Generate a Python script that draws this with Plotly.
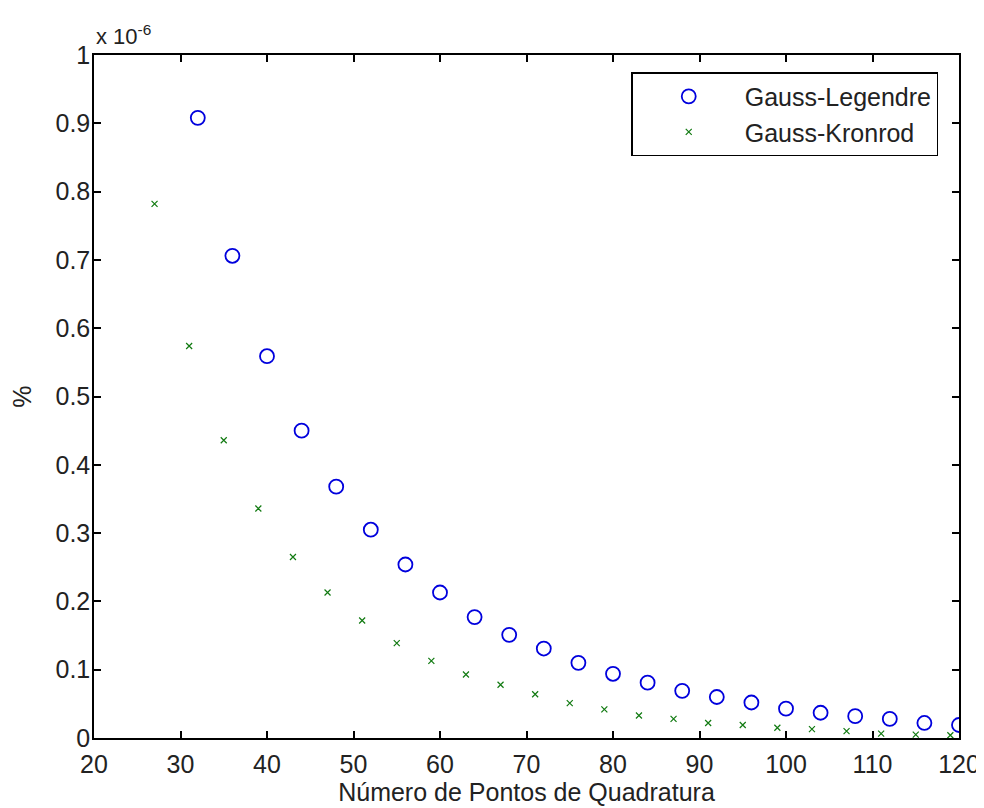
import plotly.graph_objects as go

# Values in units of 1e-6 (axis multiplier shown as "x 10^-6")
gl_points = [32, 36, 40, 44, 48, 52, 56, 60, 64, 68, 72, 76, 80, 84, 88, 92,
             96, 100, 104, 108, 112, 116, 120]
gl_error = [0.908, 0.706, 0.559, 0.450, 0.368, 0.305, 0.254, 0.213, 0.177,
            0.151, 0.131, 0.110, 0.094, 0.081, 0.069, 0.060, 0.052, 0.043,
            0.037, 0.032, 0.028, 0.022, 0.019]

gk_points = [27, 31, 35, 39, 43, 47, 51, 55, 59, 63, 67, 71, 75, 79, 83, 87,
             91, 95, 99, 103, 107, 111, 115, 119]
gk_error = [0.782, 0.574, 0.436, 0.336, 0.265, 0.213, 0.172, 0.139, 0.113,
            0.093, 0.078, 0.064, 0.051, 0.042, 0.033, 0.028, 0.022, 0.019,
            0.015, 0.013, 0.010, 0.0065, 0.005, 0.004]

x_ticks = [20, 30, 40, 50, 60, 70, 80, 90, 100, 110, 120]
y_ticks = [0, 0.1, 0.2, 0.3, 0.4, 0.5, 0.6, 0.7, 0.8, 0.9, 1]
y_tick_labels = ["0", "0.1", "0.2", "0.3", "0.4", "0.5", "0.6", "0.7", "0.8", "0.9", "1"]

FONT = "Liberation Sans"
FS = 25
TXT = "#222222"

fig = go.Figure()
fig.add_trace(go.Scatter(
    x=gl_points, y=gl_error, mode="markers", name="Gauss-Legendre",
    marker=dict(symbol="circle-open", size=14, color="#0000dd",
                line=dict(width=1.8, color="#0000dd")),
))
fig.add_trace(go.Scatter(
    x=gk_points, y=gk_error, mode="markers", name="Gauss-Kronrod",
    marker=dict(symbol="x-thin-open", size=6, color="#117a11",
                line=dict(width=1.2, color="#117a11")),
))

axis_common = dict(
    showgrid=False, zeroline=False, showline=True, linecolor="black",
    linewidth=1.5, mirror="ticks", ticks="inside", ticklen=7,
    tickcolor="black", tickwidth=1.5,
    tickfont=dict(family=FONT, size=FS, color=TXT),
)

fig.update_layout(
    width=984, height=808,
    margin=dict(l=85, r=32, t=47, b=78),
    paper_bgcolor="white", plot_bgcolor="white",
    font=dict(family=FONT, size=FS, color=TXT),
    xaxis=dict(range=[20, 120], tickvals=x_ticks, ticklabelstandoff=3,
               title=dict(text="Número de Pontos de Quadratura",
                          font=dict(family=FONT, size=FS, color=TXT), standoff=0),
               **axis_common),
    yaxis=dict(range=[0, 1], tickvals=y_ticks, ticktext=y_tick_labels,
               ticklabelstandoff=-3,
               title=dict(text="%", font=dict(family=FONT, size=FS, color=TXT), standoff=18),
               **axis_common),
    legend=dict(x=0.976, y=0.975, xanchor="right", yanchor="top",
                bgcolor="white", bordercolor="black", borderwidth=1.5,
                font=dict(family=FONT, size=FS, color=TXT),
                tracegroupgap=0, itemwidth=102),
    showlegend=True,
    annotations=[dict(
        text="x 10<sup>-6</sup>", xref="paper", yref="paper", x=0.0, y=1.0,
        xanchor="left", yanchor="bottom", showarrow=False, yshift=4,
        font=dict(family=FONT, size=22, color=TXT),
    )],
)

fig.write_html("out.html")
